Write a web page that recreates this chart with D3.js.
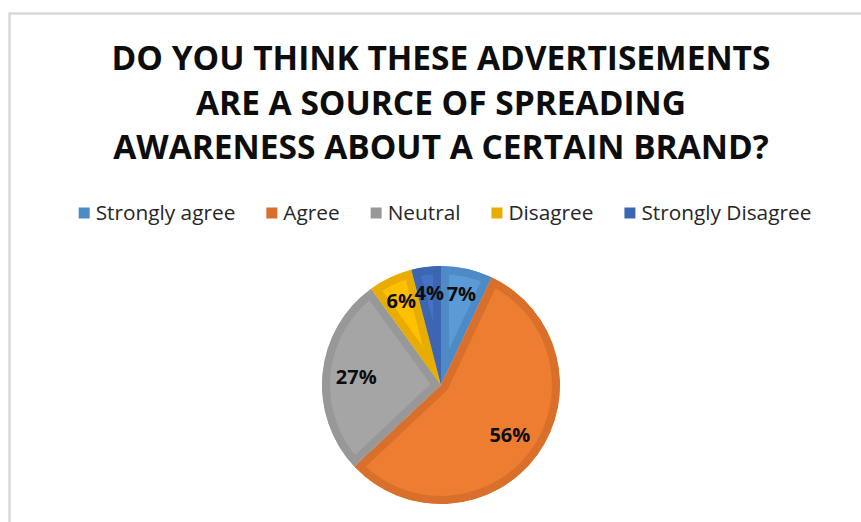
<!DOCTYPE html>
<html>
<head>
<meta charset="utf-8">
<script src="https://cdn.jsdelivr.net/npm/d3@7"></script>
<style>
  html, body { margin: 0; padding: 0; background: #ffffff; }
  svg { display: block; }
</style>
</head>
<body>
<svg id="chart" width="861" height="522"></svg>
<script>
// Survey answers and their shares (percent)
const titleLines = [
  "DO YOU THINK THESE ADVERTISEMENTS",
  "ARE A SOURCE OF SPREADING",
  "AWARENESS ABOUT A CERTAIN BRAND?"
];
const categories = ["Strongly agree", "Agree", "Neutral", "Disagree", "Strongly Disagree"];
const shares = [7, 56, 27, 6, 4];
const fillColors = ["#5B9BD5", "#ED7D31", "#A5A5A5", "#FFC000", "#4472C4"];
const edgeColors = ["#4E8BC6", "#D8702B", "#989898", "#E8AD00", "#3C66B2"];

const W = 861, H = 522;
const svg = d3.select("#chart");

// Chart area frame (runs off the right and bottom edges)
svg.append("rect")
  .attr("x", 9.5).attr("y", 13.5)
  .attr("width", W + 20).attr("height", H + 20)
  .attr("fill", "#ffffff")
  .attr("stroke", "#d9d9d9")
  .attr("stroke-width", 2.5);

// Title, sized so the first line spans the header width
const titleFont = "'Open Sans', 'DejaVu Sans', sans-serif";
const title = svg.append("g");
const titleCx = 441;
const t0 = title.append("text").text(titleLines[0])
  .attr("font-family", titleFont).attr("font-weight", 700).attr("font-size", 28);
const w0 = t0.node().getComputedTextLength();
t0.remove();
const titleSize = 28 * 659 / w0;
title.selectAll("text").data(titleLines).join("text")
  .attr("x", titleCx)
  .attr("y", (d, i) => 70 + i * 44.5)
  .attr("text-anchor", "middle")
  .attr("font-family", titleFont)
  .attr("font-weight", 700)
  .attr("font-size", titleSize)
  .attr("fill", "#0d0d0d")
  .text(d => d);

// Legend
const legendFont = "'Open Sans', 'DejaVu Sans', sans-serif";
const probe = svg.append("text").text(categories[4])
  .attr("font-family", legendFont).attr("font-size", 16);
const legendSize = 16 * 170 / probe.node().getComputedTextLength();
probe.remove();

const legend = svg.append("g");
const sw = 11, swGap = 6, itemGap = 31, legendCy = 213;
const items = legend.selectAll("g").data(categories).join("g");
items.append("text")
  .attr("font-family", legendFont)
  .attr("font-size", legendSize)
  .attr("fill", "#262626")
  .attr("dy", "0.35em")
  .text(d => d);
let cursor = 0;
const offsets = [];
items.each(function () {
  const tw = d3.select(this).select("text").node().getComputedTextLength();
  offsets.push(cursor);
  cursor += sw + swGap + tw + itemGap;
});
const legendWidth = cursor - itemGap;
const legendX0 = 445 - legendWidth / 2;
items.attr("transform", (d, i) => `translate(${legendX0 + offsets[i]},${legendCy})`);
items.insert("rect", "text")
  .attr("x", 0).attr("y", -sw / 2)
  .attr("width", sw).attr("height", sw)
  .attr("fill", (d, i) => edgeColors[i]);
items.select("text").attr("x", sw + swGap);

// Pie
const cx = 441, cy = 385, R = 119;
const pie = d3.pie().sort(null).value(d => d);
const arcs = pie(shares);
const arc = d3.arc().innerRadius(0).outerRadius(R);

const pieG = svg.append("g").attr("transform", `translate(${cx},${cy})`);

// each slice clips its own outline so the edge band sits inside the wedge
const defs = pieG.append("defs");
defs.selectAll("clipPath").data(arcs).join("clipPath")
  .attr("id", (d, i) => "slice-clip-" + i)
  .append("path")
  .attr("d", arc);

pieG.selectAll("path.slice").data(arcs).join("path")
  .attr("class", "slice")
  .attr("d", arc)
  .attr("fill", (d, i) => fillColors[i])
  .attr("stroke", (d, i) => edgeColors[i])
  .attr("stroke-width", 16)
  .attr("stroke-linejoin", "miter")
  .attr("clip-path", (d, i) => `url(#slice-clip-${i})`);

// Percentage labels inside the slices
pieG.selectAll("text").data(arcs).join("text")
  .attr("transform", d => {
    const a = (d.startAngle + d.endAngle) / 2;
    const r = (d.data < 10 ? 0.785 : 0.715) * R;
    return `translate(${r * Math.sin(a)},${-r * Math.cos(a)})`;
  })
  .attr("text-anchor", "middle")
  .attr("dy", "0.36em")
  .attr("font-family", titleFont)
  .attr("font-weight", 700)
  .attr("font-size", 20)
  .attr("fill", "#0d0d0d")
  .text(d => d.data + "%");
</script>
</body>
</html>
